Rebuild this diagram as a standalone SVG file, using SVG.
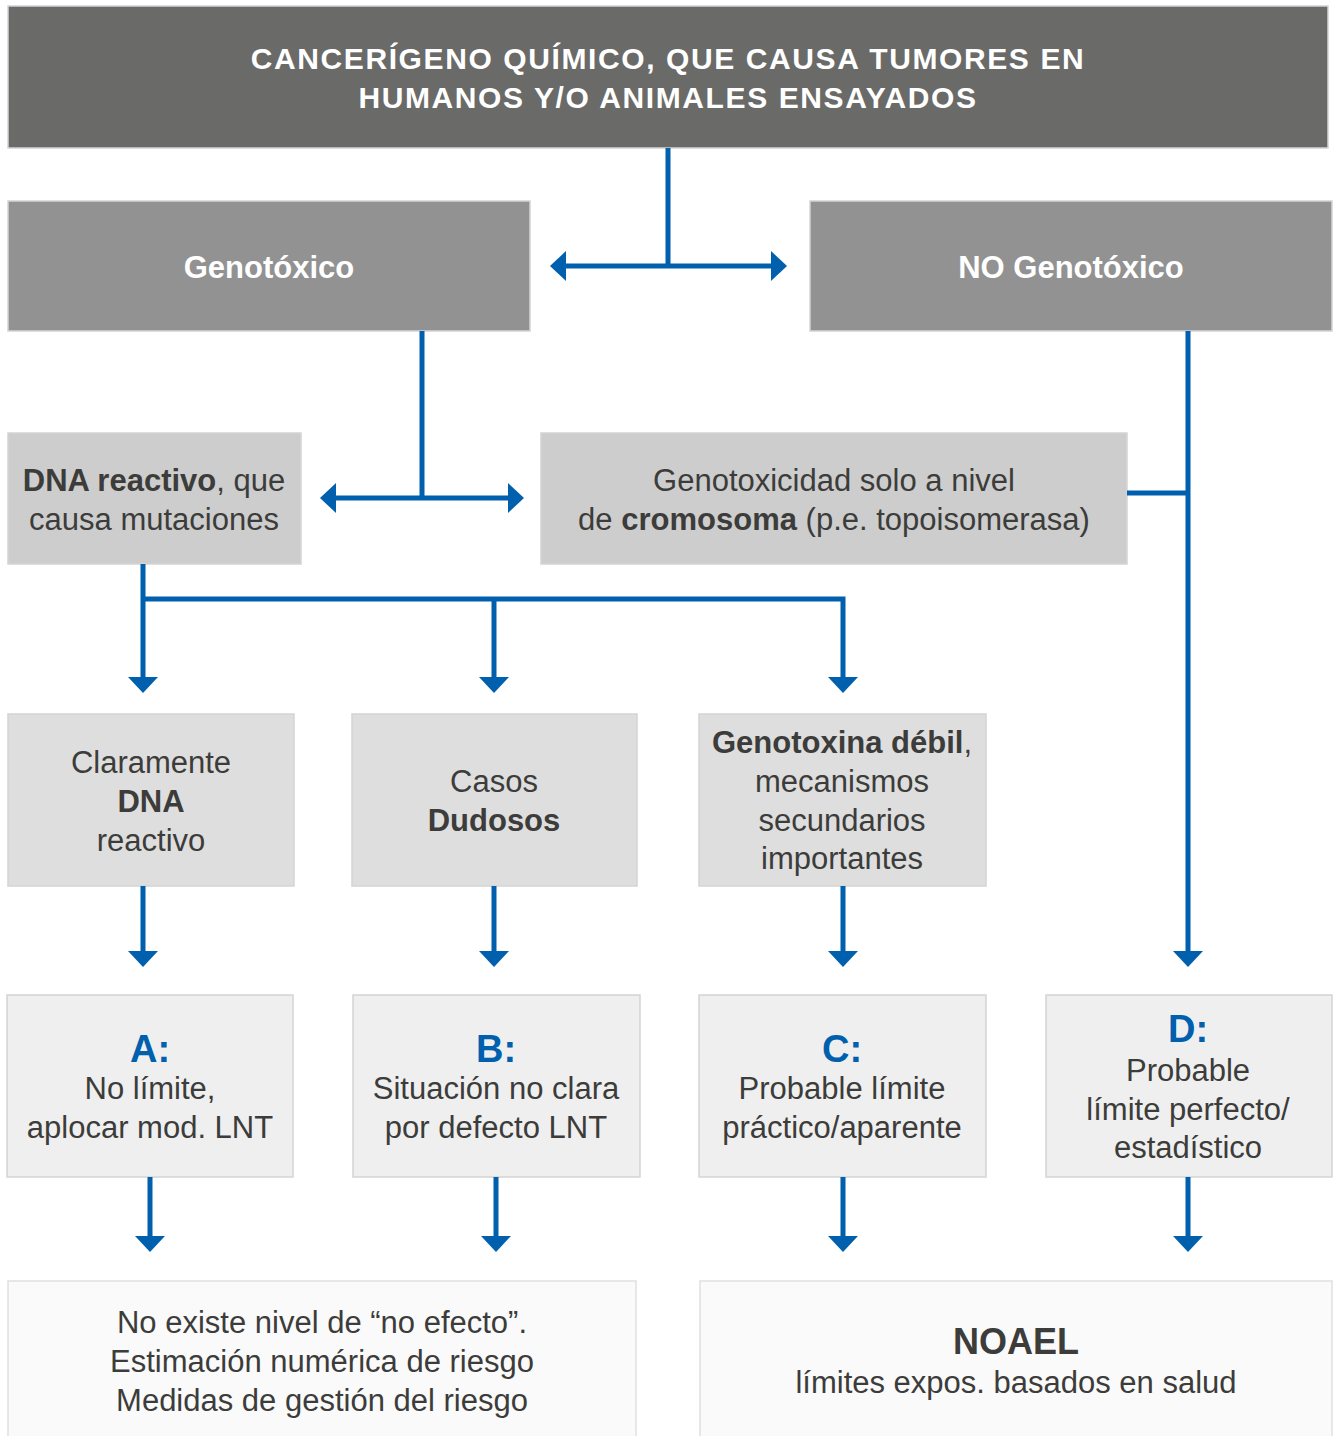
<svg xmlns="http://www.w3.org/2000/svg" width="1335" height="1436" viewBox="0 0 1335 1436">
<style>
text{font-family:"Liberation Sans",Arial,sans-serif;text-anchor:middle;font-size:31px;fill:#3c3c3a}
.b{font-weight:bold}
.w{fill:#fff;font-weight:bold}
.t{fill:#fff;font-weight:bold;letter-spacing:1.6px;font-size:30px}
.L{fill:#0060ad;font-weight:bold;font-size:38px}
.box{stroke:#d4d4d4;stroke-width:1.5}
.c{stroke:#0060ad;stroke-width:5;fill:none}
.ah{fill:#0060ad}
</style>
<rect width="1335" height="1436" fill="#fff"/>
<g id="top"><rect class="box" x="8" y="6" width="1320" height="142" fill="#6a6a68"/>
<text class="t" x="668" y="69">CANCERÍGENO QUÍMICO, QUE CAUSA TUMORES EN</text>
<text class="t" x="668" y="108">HUMANOS Y/O ANIMALES ENSAYADOS</text></g>
<g id="genotoxico"><rect class="box" x="8" y="201" width="522" height="130" fill="#929292"/>
<text class="w" x="269" y="278">Genotóxico</text></g>
<g id="no-genotoxico"><rect class="box" x="810" y="201" width="522" height="130" fill="#929292"/>
<text class="w" x="1071" y="278">NO Genotóxico</text></g>
<g id="dna-reactivo"><rect class="box" x="8" y="433" width="293" height="131" fill="#cdcdcd"/>
<text x="154" y="491"><tspan class="b">DNA reactivo</tspan>, que</text>
<text x="154" y="530">causa mutaciones</text></g>
<g id="cromosoma"><rect class="box" x="541" y="433" width="586" height="131" fill="#cdcdcd"/>
<text x="834" y="491">Genotoxicidad solo a nivel</text>
<text x="834" y="530">de <tspan class="b">cromosoma</tspan> (p.e. topoisomerasa)</text></g>
<g id="claramente"><rect class="box" x="8" y="714" width="286" height="172" fill="#dedede"/>
<text x="151" y="773">Claramente</text>
<text class="b" x="151" y="812">DNA</text>
<text x="151" y="851">reactivo</text></g>
<g id="dudosos"><rect class="box" x="352" y="714" width="285" height="172" fill="#dedede"/>
<text x="494" y="792">Casos</text>
<text class="b" x="494" y="831">Dudosos</text></g>
<g id="debil"><rect class="box" x="699" y="714" width="287" height="172" fill="#dedede"/>
<text x="842" y="753"><tspan class="b">Genotoxina débil</tspan>,</text>
<text x="842" y="792">mecanismos</text>
<text x="842" y="831">secundarios</text>
<text x="842" y="869">importantes</text></g>
<g id="A"><rect class="box" x="7" y="995" width="286" height="182" fill="#efefef"/>
<text class="L" x="150" y="1062">A:</text>
<text x="150" y="1099">No límite,</text>
<text x="150" y="1138">aplocar mod. LNT</text></g>
<g id="B"><rect class="box" x="353" y="995" width="287" height="182" fill="#efefef"/>
<text class="L" x="496" y="1062">B:</text>
<text x="496" y="1099">Situación no clara</text>
<text x="496" y="1138">por defecto LNT</text></g>
<g id="C"><rect class="box" x="699" y="995" width="287" height="182" fill="#efefef"/>
<text class="L" x="842" y="1062">C:</text>
<text x="842" y="1099">Probable límite</text>
<text x="842" y="1138">práctico/aparente</text></g>
<g id="D"><rect class="box" x="1046" y="995" width="286" height="182" fill="#efefef"/>
<text class="L" x="1188" y="1042">D:</text>
<text x="1188" y="1081">Probable</text>
<text x="1188" y="1120">límite perfecto/</text>
<text x="1188" y="1158">estadístico</text></g>
<g id="no-efecto"><rect x="8" y="1281" width="628" height="170" fill="#fafafa" stroke="#e0e0e0" stroke-width="1.5"/>
<text x="322" y="1333">No existe nivel de “no efecto”.</text>
<text x="322" y="1372">Estimación numérica de riesgo</text>
<text x="322" y="1411">Medidas de gestión del riesgo</text></g>
<g id="noael"><rect x="700" y="1281" width="632" height="170" fill="#fafafa" stroke="#e0e0e0" stroke-width="1.5"/>
<text class="b" x="1016" y="1354" style="font-size:36px">NOAEL</text>
<text x="1016" y="1393">límites expos. basados en salud</text></g>
<g id="connectors">
<path class="c" d="M668 148V266M564 266H774"/>
<path class="ah" d="M550 266L566 251V281Z"/>
<path class="ah" d="M787 266L771 251V281Z"/>
<path class="c" d="M422 331V498M334 498H510"/>
<path class="ah" d="M320 498L336 483V513Z"/>
<path class="ah" d="M524 498L508 483V513Z"/>
<path class="c" d="M143 564V680M143 599H843V680M494 599V680"/>
<path class="ah" d="M143 693L128 677H158Z"/>
<path class="ah" d="M494 693L479 677H509Z"/>
<path class="ah" d="M843 693L828 677H858Z"/>
<path class="c" d="M1127 493H1188M1188 331V954"/>
<path class="ah" d="M1188 967L1173 951H1203Z"/>
<path class="c" d="M143 886V954M494 886V954M843 886V954"/>
<path class="ah" d="M143 967L128 951H158Z"/>
<path class="ah" d="M494 967L479 951H509Z"/>
<path class="ah" d="M843 967L828 951H858Z"/>
<path class="c" d="M150 1177V1239M496 1177V1239M843 1177V1239M1188 1177V1239"/>
<path class="ah" d="M150 1252L135 1236H165Z"/>
<path class="ah" d="M496 1252L481 1236H511Z"/>
<path class="ah" d="M843 1252L828 1236H858Z"/>
<path class="ah" d="M1188 1252L1173 1236H1203Z"/>
</g>
</svg>
